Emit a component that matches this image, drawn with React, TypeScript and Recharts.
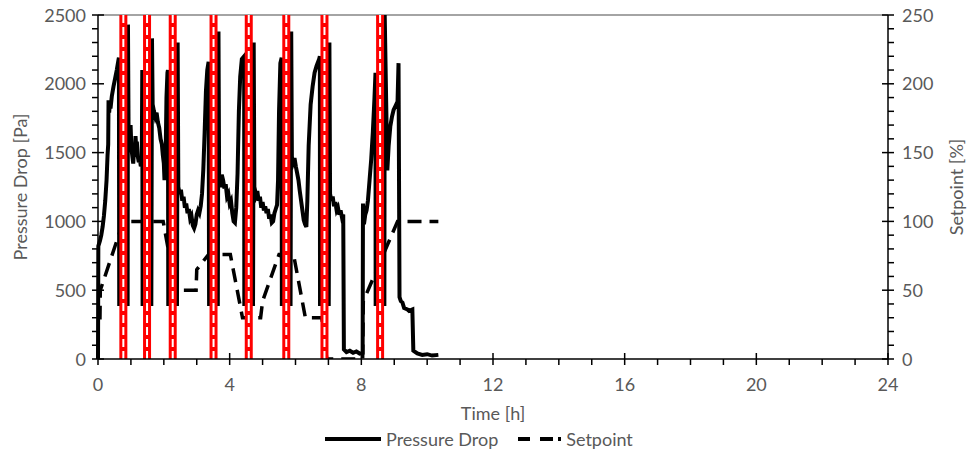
import { LineChart, Line, XAxis, YAxis, ReferenceLine } from "recharts";

// time [h], pressure drop [Pa]
const pressure: [number, number][] = [
  [0, 0], [0.01, 820], [0.06, 860], [0.1, 900], [0.14, 960], [0.18, 1040], [0.22, 1150], [0.26, 1300],
  [0.29, 1480], [0.31, 1560], [0.32, 1880], [0.34, 1790], [0.36, 1860], [0.38, 1820], [0.42, 1910],
  [0.47, 1980], [0.52, 2040], [0.57, 2100], [0.62, 2170], [0.635, 2190], [0.645, 400], [0.9, 400],
  [0.91, 2430], [0.93, 1600], [0.95, 1560], [0.97, 1650], [0.99, 1700], [1.01, 1560], [1.03, 1500],
  [1.05, 1460], [1.07, 1420], [1.09, 1500], [1.11, 1470], [1.14, 1620], [1.16, 1540], [1.18, 1580],
  [1.21, 1470], [1.24, 1430], [1.27, 1460], [1.3, 1400], [1.33, 1420], [1.345, 2100], [1.355, 400], [1.62, 400],
  [1.64, 2330], [1.66, 1850], [1.7, 1800], [1.74, 1760], [1.78, 1790], [1.82, 1720], [1.86, 1680],
  [1.9, 1600], [1.94, 1560], [1.97, 1480], [2.0, 1420], [2.02, 1300], [2.05, 1380], [2.08, 1900],
  [2.11, 2080], [2.125, 2100], [2.135, 400], [2.4, 400],
  [2.42, 2300], [2.44, 1250], [2.48, 1200], [2.52, 1230], [2.56, 1150], [2.6, 1180], [2.64, 1100],
  [2.68, 1130], [2.72, 1060], [2.76, 1090], [2.8, 1020], [2.84, 1040], [2.88, 970], [2.92, 950],
  [2.96, 980], [3.0, 1050], [3.04, 1080], [3.08, 1060], [3.12, 1110], [3.16, 1200], [3.2, 1380],
  [3.24, 1650], [3.28, 1950], [3.32, 2100], [3.36, 2160], [3.375, 400], [3.64, 400],
  [3.66, 2380], [3.68, 1300], [3.72, 1250], [3.76, 1340], [3.8, 1300], [3.84, 1240], [3.88, 1270],
  [3.92, 1180], [3.96, 1200], [4.0, 1130], [4.04, 1150], [4.08, 1060], [4.12, 1000], [4.16, 990],
  [4.2, 1100], [4.24, 1350], [4.28, 1800], [4.32, 2050], [4.37, 2180], [4.44, 2200], [4.445, 400], [4.71, 400],
  [4.73, 2300], [4.75, 1250], [4.8, 1190], [4.84, 1220], [4.88, 1150], [4.92, 1180], [4.96, 1100],
  [5.0, 1140], [5.04, 1080], [5.08, 1110], [5.12, 1060], [5.16, 1090], [5.2, 1020], [5.24, 1050],
  [5.28, 990], [5.32, 1000], [5.36, 1060], [5.4, 1090], [5.44, 1120], [5.47, 1300], [5.5, 1800],
  [5.54, 2150], [5.58, 2190], [5.585, 400], [5.85, 400],
  [5.87, 2380], [5.89, 1470], [5.93, 1430], [5.97, 1460], [6.01, 1400], [6.05, 1350], [6.09, 1300],
  [6.13, 1220], [6.17, 1150], [6.21, 1080], [6.25, 1010], [6.29, 980], [6.33, 960], [6.36, 1150],
  [6.4, 1550], [6.46, 1850], [6.52, 1980], [6.58, 2080], [6.64, 2130], [6.72, 2180], [6.74, 2200],
  [6.745, 400], [7.01, 400],
  [7.03, 2300], [7.05, 1200], [7.09, 1150], [7.13, 1180], [7.17, 1110], [7.21, 1140], [7.25, 1080],
  [7.29, 1100], [7.33, 1050], [7.37, 1080], [7.41, 1030], [7.45, 1050], [7.47, 70], [7.55, 50],
  [7.65, 60], [7.75, 45], [7.85, 55], [7.95, 40], [8.04, 45], [8.05, 1130], [8.08, 980], [8.12, 1050],
  [8.16, 1080], [8.2, 1150], [8.25, 1300], [8.3, 1450], [8.35, 1650], [8.4, 1900], [8.43, 2080],
  [8.435, 400], [8.7, 400],
  [8.71, 2500], [8.79, 1370], [8.83, 1550], [8.88, 1690], [8.93, 1760], [8.98, 1810], [9.04, 1840],
  [9.1, 1870], [9.13, 2150], [9.16, 450], [9.2, 420], [9.25, 410], [9.3, 370], [9.4, 360], [9.45, 350],
  [9.55, 360], [9.58, 60], [9.7, 40], [9.85, 30], [10.0, 35], [10.15, 25], [10.34, 30],
];

// time [h], setpoint [%]
const setpoint: [number, number][] = [
  [0, 30], [0.06, 30], [0.07, 50], [0.77, 100], [1.98, 100], [2.36, 50], [2.98, 50], [3.0, 65],
  [3.36, 76], [4.02, 76], [4.39, 30], [4.94, 30], [5.0, 42], [5.5, 76], [5.94, 76], [6.3, 30],
  [6.8, 30], [6.95, 0], [8.04, 0], [8.06, 42], [9.1, 100], [10.34, 100],
];

// cleaning events (centre time [h])
const cleanings = [0.77, 1.49, 2.27, 3.51, 4.58, 5.72, 6.88, 8.57];

const xMajor = [0, 4, 8, 12, 16, 20, 24];
const leftMajor = [0, 500, 1000, 1500, 2000, 2500];
const rightMajor = [0, 50, 100, 150, 200, 250];

const xTicks = Array.from({ length: 25 }, (_, i) => i);
const leftTicks = Array.from({ length: 26 }, (_, i) => i * 100);
const rightTicks = Array.from({ length: 26 }, (_, i) => i * 10);

const pressureData = pressure.map(([t, v]) => ({ t, v }));
const setpointData = setpoint.map(([t, v]) => ({ t, v }));

const TEXT = "#595959";
const FONT = 18;

const XTick = (props: any) => {
  const { x, y, payload } = props;
  const major = xMajor.includes(payload.value);
  return (
    <g>
      <line x1={x} x2={x} y1={major ? y - 6 : y} y2={y + 6} stroke="#000" strokeWidth={1.5} />
      {major && (
        <text x={x} y={y + 32} textAnchor="middle" fill={TEXT} fontSize={FONT}>
          {payload.value}
        </text>
      )}
    </g>
  );
};

const LeftTick = (props: any) => {
  const { x, y, payload } = props;
  const major = leftMajor.includes(payload.value);
  return (
    <g>
      <line x1={x - 6} x2={major ? x + 6 : x} y1={y} y2={y} stroke="#000" strokeWidth={1.5} />
      {major && (
        <text x={x - 12} y={y + 6.5} textAnchor="end" fill={TEXT} fontSize={FONT}>
          {payload.value}
        </text>
      )}
    </g>
  );
};

const RightTick = (props: any) => {
  const { x, y, payload } = props;
  const major = rightMajor.includes(payload.value);
  return (
    <g>
      <line x1={major ? x - 6 : x} x2={x + 6} y1={y} y2={y} stroke="#000" strokeWidth={1.5} />
      {major && (
        <text x={x + 14} y={y + 6.5} textAnchor="start" fill={TEXT} fontSize={FONT}>
          {payload.value}
        </text>
      )}
    </g>
  );
};

const Legend = () => (
  <div
    style={{
      position: "absolute",
      left: 325,
      top: 429,
      height: 20,
      display: "flex",
      alignItems: "center",
      fontSize: FONT,
      color: TEXT,
      lineHeight: "20px",
    }}
  >
    <svg width={56} height={10} style={{ marginRight: 5 }}>
      <line x1={0} x2={56} y1={5} y2={5} stroke="#000" strokeWidth={4} />
    </svg>
    <span>Pressure Drop</span>
    <svg width={46} height={10} style={{ marginLeft: 20, marginRight: 2 }}>
      <line x1={0} x2={46} y1={5} y2={5} stroke="#000" strokeWidth={4} strokeDasharray="12 10 13 5 3 20" />
    </svg>
    <span>Setpoint</span>
  </div>
);

export default function App() {
  return (
    <div
      style={{
        position: "absolute",
        left: 0,
        top: 0,
        width: 976,
        height: 450,
        background: "#fff",
        fontFamily: "Lato, 'Open Sans', sans-serif",
      }}
    >
      <LineChart width={976} height={450} margin={{ top: 15, right: 0, bottom: 21, left: 0 }}>
        <XAxis
          dataKey="t"
          type="number"
          domain={[0, 24]}
          ticks={xTicks}
          interval={0}
          tickSize={0}
          tickMargin={0}
          tickLine={false}
          tick={XTick}
          height={70}
          axisLine={{ stroke: "#000", strokeWidth: 1.5 }}
          label={{ value: "Time [h]", position: "insideBottom", offset: 9, fill: TEXT, fontSize: FONT }}
        />
        <YAxis
          yAxisId="left"
          type="number"
          domain={[0, 2500]}
          allowDataOverflow
          ticks={leftTicks}
          interval={0}
          tickSize={0}
          tickMargin={0}
          tickLine={false}
          tick={LeftTick}
          width={98}
          axisLine={{ stroke: "#000", strokeWidth: 1.5 }}
          label={{
            value: "Pressure Drop [Pa]",
            angle: -90,
            position: "insideLeft",
            offset: 21,
            fill: TEXT,
            fontSize: FONT,
            style: { textAnchor: "middle" },
          }}
        />
        <YAxis
          yAxisId="right"
          orientation="right"
          type="number"
          domain={[0, 250]}
          allowDataOverflow
          ticks={rightTicks}
          interval={0}
          tickSize={0}
          tickMargin={0}
          tickLine={false}
          tick={RightTick}
          width={88}
          axisLine={{ stroke: "#000", strokeWidth: 1.5 }}
          label={{
            value: "Setpoint [%]",
            angle: -90,
            position: "insideRight",
            offset: 19,
            fill: TEXT,
            fontSize: FONT,
            style: { textAnchor: "middle" },
          }}
        />
        <ReferenceLine yAxisId="left" y={2500} stroke="#868686" strokeWidth={1.5} />
        <Line
          yAxisId="left"
          data={pressureData}
          dataKey="v"
          type="linear"
          stroke="#000"
          strokeWidth={4}
          dot={false}
          isAnimationActive={false}
        />
        <Line
          yAxisId="right"
          data={setpointData}
          dataKey="v"
          type="linear"
          stroke="#000"
          strokeWidth={3.5}
          strokeDasharray="14 8"
          dot={false}
          isAnimationActive={false}
        />
        {cleanings.map((c) => (
          <ReferenceLine key={`r${c}`} yAxisId="left" x={c} stroke="#ff0000" strokeWidth={8} />
        ))}
        {cleanings.map((c) => (
          <ReferenceLine
            key={`w${c}`}
            yAxisId="left"
            x={c}
            stroke="#fff"
            strokeWidth={2}
            strokeDasharray="8 4"
          />
        ))}
      </LineChart>
      <Legend />
    </div>
  );
}
